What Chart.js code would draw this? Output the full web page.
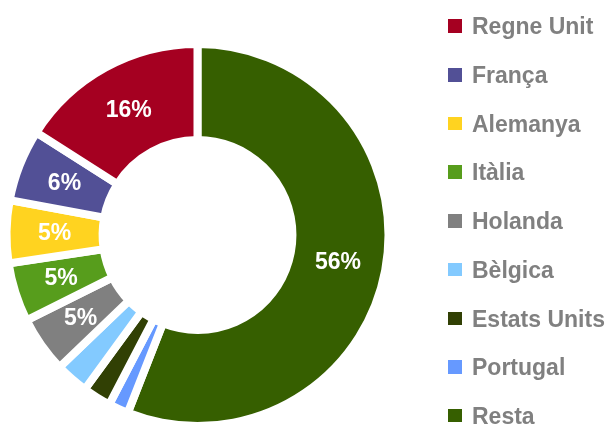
<!DOCTYPE html>
<html>
<head>
<meta charset="utf-8">
<script src="https://cdn.jsdelivr.net/npm/chart.js@4/dist/chart.umd.min.js"></script>
<style>
  html, body { margin: 0; padding: 0; background: #ffffff; }
  body { width: 607px; height: 425px; position: relative; overflow: hidden; }
  #wrap { position: absolute; left: 0; top: 0; width: 395px; height: 425px; }
  #legend { position: absolute; left: 0; top: 0; width: 607px; height: 425px; pointer-events: none; }
  .sq { position: absolute; width: 14px; height: 13.5px; }
  .lt { position: absolute; font-family: "Liberation Sans", Arial, sans-serif; font-weight: bold;
        font-size: 23px; line-height: 23px; color: #808080; white-space: nowrap; }
</style>
</head>
<body>
<div id="wrap"><canvas id="c"></canvas></div>
<div id="legend"></div>
<script>
// Legend order (as shown in the reference)
const categories = ["Regne Unit", "França", "Alemanya", "Itàlia", "Holanda", "Bèlgica", "Estats Units", "Portugal", "Resta"];
const shares = [16, 6.1, 5.3, 5.0, 4.8, 2.8, 2.4, 1.7, 56];
const colors = ["#A50021", "#525096", "#FFD320", "#579D1C", "#808080", "#83CAFF", "#314004", "#6699FF", "#365F00"];

// The doughnut is drawn clockwise from the top with "Resta" first
const drawLabels = categories.slice().reverse();
const drawValues = shares.slice().reverse();
const drawColors = colors.slice().reverse();

// HTML legend
const legend = document.getElementById('legend');
categories.forEach((name, i) => {
  const sq = document.createElement('div');
  sq.className = 'sq';
  sq.style.left = '448px';
  sq.style.top = (19.3 + i * 48.7) + 'px';
  sq.style.background = colors[i];
  legend.appendChild(sq);
  const t = document.createElement('div');
  t.className = 'lt';
  t.style.left = '472px';
  t.style.top = (15.3 + i * 48.7) + 'px';
  t.textContent = name;
  legend.appendChild(t);
});

const GAP = 8;
const pctLabels = {
  id: 'pctLabels',
  afterDatasetsDraw(chart) {
    const ctx = chart.ctx;
    const meta = chart.getDatasetMeta(0);
    const vals = chart.data.datasets[0].data;
    ctx.save();
    ctx.font = 'bold 23px "Liberation Sans", Arial, sans-serif';
    ctx.fillStyle = '#ffffff';
    ctx.textAlign = 'center';
    ctx.textBaseline = 'middle';
    meta.data.forEach((arc, i) => {
      if (vals[i] < 4) return;
      const p = arc.tooltipPosition();
      ctx.fillText(Math.round(vals[i]) + '%', p.x, p.y + 1);
    });
    ctx.restore();
  }
};

new Chart(document.getElementById('c'), {
  type: 'doughnut',
  data: {
    labels: drawLabels,
    datasets: [{
      data: drawValues,
      backgroundColor: drawColors,
      borderWidth: GAP,
      borderColor: '#ffffff',
      borderAlign: 'center',
      borderJoinStyle: 'miter'
    }]
  },
  options: {
    responsive: true,
    maintainAspectRatio: false,
    animation: false,
    events: [],
    radius: 187 + GAP / 2,
    cutout: '49.7%',
    layout: { padding: { left: 0, right: 0, top: 45, bottom: 0 } },
    plugins: {
      legend: { display: false },
      tooltip: { enabled: false }
    }
  },
  plugins: [pctLabels]
});
</script>
</body>
</html>
